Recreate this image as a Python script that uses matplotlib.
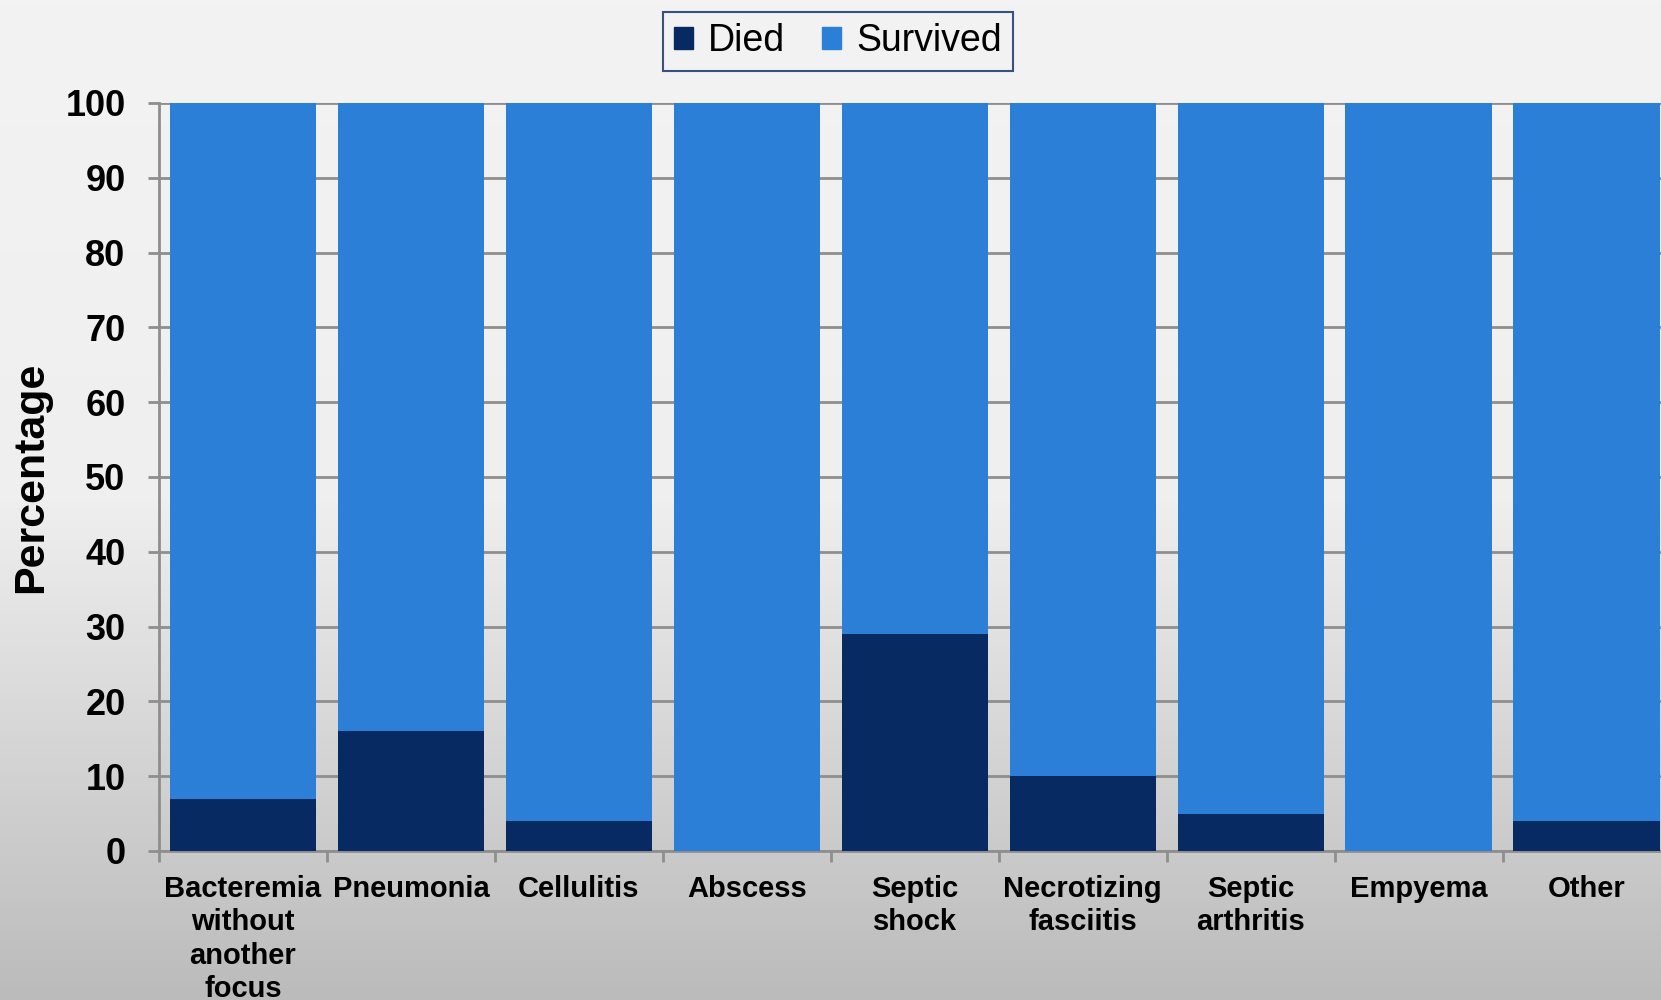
import numpy as np
import matplotlib
matplotlib.use("Agg")
import matplotlib.pyplot as plt
from matplotlib.patches import Patch
from matplotlib.colors import LinearSegmentedColormap

plt.rcParams['font.family'] = ['Liberation Sans', 'DejaVu Sans']

# data
categories = ["Bacteremia\nwithout\nanother\nfocus", "Pneumonia", "Cellulitis", "Abscess",
              "Septic\nshock", "Necrotizing\nfasciitis", "Septic\narthritis", "Empyema", "Other"]
died = [7, 16, 4, 0, 29, 10, 5, 0, 4]
survived = [100 - d for d in died]
yticks = [0, 10, 20, 30, 40, 50, 60, 70, 80, 90, 100]

c_died = "#082a62"
c_surv = "#2b7fd7"
c_grid = "#8e8e8e"

fig = plt.figure(figsize=(16.61, 10.0), dpi=100)

# gradient background
bg = fig.add_axes([0, 0, 1, 1], zorder=-10)
grad = np.linspace(0, 1, 256).reshape(-1, 1)
cmap = LinearSegmentedColormap.from_list("bg", ["#f3f3f3", "#efefef", "#bbbbbb"])
bg.imshow(grad, aspect="auto", cmap=cmap, extent=[0, 1, 0, 1])
bg.axis("off")

ax = fig.add_axes([0.0957, 0.149, 0.910, 0.748])
ax.patch.set_alpha(0)
x = np.arange(len(categories))
ax.bar(x, died, width=0.87, color=c_died, zorder=3)
ax.bar(x, survived, bottom=died, width=0.87, color=c_surv, zorder=3)

ax.set_xlim(-0.5, len(categories) - 0.5)
ax.set_ylim(0, 100)
ax.set_yticks(yticks)
ax.yaxis.grid(True, color=c_grid, linewidth=2, zorder=0)
ax.set_axisbelow(True)

for s in ["top", "right"]:
    ax.spines[s].set_visible(False)
for s in ["left", "bottom"]:
    ax.spines[s].set_color(c_grid)
    ax.spines[s].set_linewidth(2)

ax.tick_params(axis="y", length=8, width=2, color=c_grid, pad=16, labelsize=26)
for lab in ax.get_yticklabels():
    lab.set_fontweight("bold")

ax.set_xticks(x)
ax.set_xticklabels(categories, fontsize=21, fontweight="bold", linespacing=1.25)
ax.set_xticks(np.arange(len(categories) + 1) - 0.5, minor=True)
ax.tick_params(axis="x", which="major", length=0, pad=17)
ax.tick_params(axis="x", which="minor", length=8, width=2, color=c_grid)

ax.set_ylabel("Percentage", fontsize=31, fontweight="bold", labelpad=10)

handles = [Patch(color=c_died, label="Died"), Patch(color=c_surv, label="Survived")]
leg = fig.legend(handles=handles, loc="upper center", bbox_to_anchor=(0.5045, 0.988), ncol=2,
                 fontsize=27, frameon=True, fancybox=False, handlelength=0.5, handleheight=0.5,
                 handletextpad=0.4, columnspacing=1.0, borderpad=0.3, borderaxespad=0)
leg.get_frame().set_edgecolor(c_died)
leg.get_frame().set_linewidth(1.5)
leg.get_frame().set_facecolor("#f2f2f2")

fig.savefig("out.png", dpi=100)
